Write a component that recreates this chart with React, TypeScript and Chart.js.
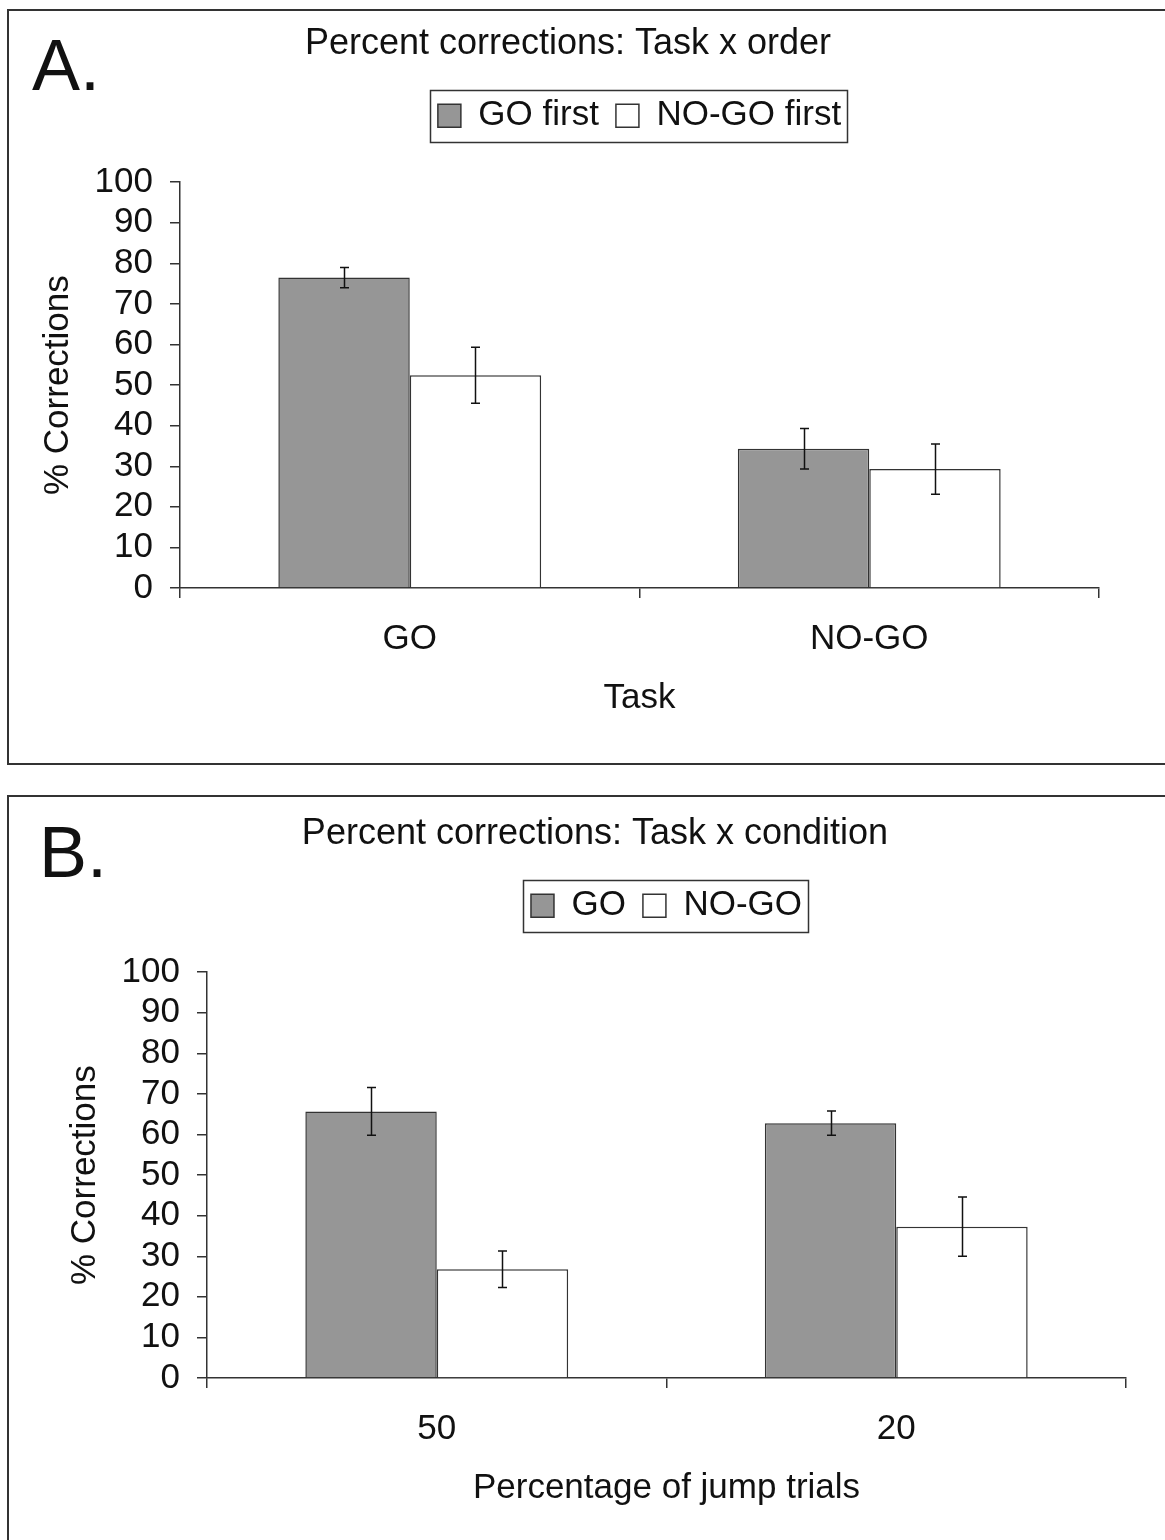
import React, { useEffect, useRef } from 'react';
import { Chart, registerables } from 'chart.js';

Chart.register(...registerables);

const FONT = "'Liberation Sans', Arial, Helvetica, sans-serif";
const INK = '#111111';
const LINE = '#333333';
const GRAY = '#969696';
const WHITE = '#ffffff';

// y axis
const Y_MIN = 0;
const Y_MAX = 100;
const Y_STEP = 10;

// Panel A: Task x order
const taskCategories = ['GO', 'NO-GO'];
const goFirstValues = [76.5, 34.3];
const goFirstErrors = [2.5, 5.0];
const noGoFirstValues = [52.4, 29.3];
const noGoFirstErrors = [6.9, 6.2];

// Panel B: Task x condition
const jumpCategories = ['50', '20'];
const goValues = [65.7, 62.8];
const goErrors = [5.9, 3.0];
const noGoValues = [26.8, 37.3];
const noGoErrors = [4.5, 7.3];

const errorBarPlugin = {
  id: 'errorBars',
  afterDatasetsDraw(chart: any) {
    const ctx = chart.ctx;
    const ys = chart.scales.y;
    chart.data.datasets.forEach((ds: any, i: number) => {
      const meta = chart.getDatasetMeta(i);
      const errs: number[] = ds.errors || [];
      meta.data.forEach((el: any, j: number) => {
        const v = ds.data[j];
        const e = errs[j];
        if (e == null) return;
        const x = Math.round(el.x) + 0.5;
        const y1 = ys.getPixelForValue(v + e);
        const y2 = ys.getPixelForValue(v - e);
        ctx.save();
        ctx.strokeStyle = INK;
        ctx.lineWidth = 1.5;
        ctx.beginPath();
        ctx.moveTo(x, y1);
        ctx.lineTo(x, y2);
        ctx.moveTo(x - 4.5, y1);
        ctx.lineTo(x + 4.5, y1);
        ctx.moveTo(x - 4.5, y2);
        ctx.lineTo(x + 4.5, y2);
        ctx.stroke();
        ctx.restore();
      });
    });
  },
};

const legendBoxPlugin = {
  id: 'legendBox',
  afterDraw(chart: any) {
    const lg = chart.legend;
    if (!lg || !lg.legendHitBoxes || !lg.legendHitBoxes.length) return;
    const hb = lg.legendHitBoxes;
    const first = hb[0];
    const last = hb[hb.length - 1];
    const cy = first.top + first.height / 2;
    const left = Math.round(first.left - 8) + 0.5;
    const right = Math.round(last.left + last.width + 6) + 0.5;
    const ctx = chart.ctx;
    ctx.save();
    ctx.strokeStyle = LINE;
    ctx.lineWidth = 1.5;
    ctx.strokeRect(left, Math.round(cy - 26) + 0.5, right - left, 52);
    ctx.restore();
  },
};

const panelLetterPlugin = {
  id: 'panelLetter',
  afterDraw(chart: any, _args: any, opts: any) {
    if (!opts || !opts.text) return;
    const ctx = chart.ctx;
    ctx.save();
    ctx.fillStyle = INK;
    ctx.font = `72px ${FONT}`;
    ctx.textBaseline = 'alphabetic';
    ctx.textAlign = 'left';
    ctx.fillText(opts.text, opts.x, opts.y);
    ctx.restore();
  },
};

type PanelProps = {
  top: number;
  shift: number;
  letter: string;
  letterX: number;
  letterY: number;
  title: string;
  categories: string[];
  xTitle: string;
  labels: string[];
  values: number[][];
  errors: number[][];
};

const CANVAS_H = 765;

function Panel(p: PanelProps) {
  const ref = useRef<HTMLCanvasElement | null>(null);
  useEffect(() => {
    if (!ref.current) return;
    const fills = [GRAY, WHITE];
    const chart = new Chart(ref.current, {
      type: 'bar',
      data: {
        labels: p.categories,
        datasets: p.labels.map((lab, i) => ({
          label: lab,
          data: p.values[i],
          errors: p.errors[i],
          backgroundColor: fills[i],
          borderColor: LINE,
          borderWidth: 1.5,
          categoryPercentage: 0.572,
          barPercentage: 1.0,
        })) as any,
      },
      options: {
        responsive: false,
        animation: false,
        devicePixelRatio: 1,
        layout: { padding: { left: 37 + p.shift, right: 66 - p.shift, top: 0, bottom: 37 } },
        font: { family: FONT },
        scales: {
          x: {
            afterFit: (s: any) => { s.height = 140; },
            grid: {
              display: true,
              drawOnChartArea: false,
              drawTicks: true,
              tickLength: 10,
              color: LINE,
              lineWidth: 1.5,
              offset: true,
            },
            border: { display: true, color: LINE, width: 1.5 },
            ticks: { color: INK, font: { size: 35, family: FONT }, padding: 20, maxRotation: 0, autoSkip: false },
            title: {
              display: true,
              text: p.xTitle,
              color: INK,
              font: { size: 35, family: FONT },
              padding: { top: 0, bottom: 9 },
            },
          },
          y: {
            min: Y_MIN,
            max: Y_MAX,
            afterFit: (s: any) => { s.width = 143; },
            grid: {
              display: true,
              drawOnChartArea: false,
              drawTicks: true,
              tickLength: 10,
              color: LINE,
              lineWidth: 1.5,
            },
            border: { display: true, color: LINE, width: 1.5 },
            ticks: { stepSize: Y_STEP, autoSkip: false, color: INK, font: { size: 35, family: FONT }, padding: 17 },
            title: {
              display: true,
              text: '% Corrections',
              color: INK,
              font: { size: 35, family: FONT },
              padding: { top: 0, bottom: 0 },
            },
          },
        },
        plugins: {
          tooltip: { enabled: false },
          title: {
            display: true,
            text: p.title,
            color: INK,
            font: { size: 36, weight: 'normal', family: FONT },
            padding: { top: 22, bottom: 16 },
          },
          subtitle: {
            display: true,
            text: '',
            font: { size: 1, lineHeight: 1 },
            padding: { top: 38, bottom: 0 },
            weight: 100,
          } as any,
          legend: {
            display: true,
            position: 'top',
            fullSize: false,
            align: 'center',
            labels: {
              boxWidth: 23,
              boxHeight: 23,
              padding: 17,
              color: INK,
              font: { size: 35, family: FONT },
            },
          },
          panelLetter: { text: p.letter, x: p.letterX, y: p.letterY },
        } as any,
      },
      plugins: [errorBarPlugin, legendBoxPlugin, panelLetterPlugin],
    });
    return () => chart.destroy();
  }, []);
  return (
    <canvas
      ref={ref}
      width={1165}
      height={CANVAS_H}
      style={{ position: 'absolute', left: 0, top: p.top, width: 1165, height: CANVAS_H }}
    />
  );
}

export default function App() {
  return (
    <div
      style={{
        position: 'fixed',
        left: 0,
        top: 0,
        width: 1165,
        height: 1540,
        overflow: 'hidden',
        background: '#ffffff',
      }}
    >
      <div
        style={{
          position: 'absolute',
          left: 7,
          top: 9,
          width: 1200,
          height: 756,
          border: `2px solid ${LINE}`,
          boxSizing: 'border-box',
        }}
      />
      <div
        style={{
          position: 'absolute',
          left: 7,
          top: 795,
          width: 1200,
          height: 800,
          border: `2px solid ${LINE}`,
          boxSizing: 'border-box',
        }}
      />
      <Panel
        top={0}
        shift={0}
        letter="A."
        letterX={32}
        letterY={90}
        title="Percent corrections: Task x order"
        categories={taskCategories}
        xTitle="Task"
        labels={['GO first', 'NO-GO first']}
        values={[goFirstValues, noGoFirstValues]}
        errors={[goFirstErrors, noGoFirstErrors]}
      />
      <Panel
        top={790}
        shift={27}
        letter="B."
        letterX={39}
        letterY={87}
        title="Percent corrections: Task x condition"
        categories={jumpCategories}
        xTitle="Percentage of jump trials"
        labels={['GO', 'NO-GO']}
        values={[goValues, noGoValues]}
        errors={[goErrors, noGoErrors]}
      />
    </div>
  );
}
